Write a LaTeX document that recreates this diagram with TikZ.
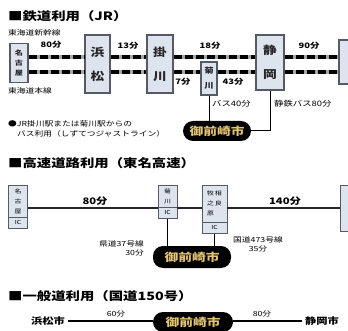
\documentclass[tikz,border=0pt]{standalone}
\usepackage{fontspec}
\setmainfont{Noto Sans CJK JP}[FakeStretch=1.25]
\usetikzlibrary{shapes.multipart}
\definecolor{boxfill}{RGB}{221,228,238}
\definecolor{boxline}{RGB}{85,90,100}
\definecolor{pillgold}{RGB}{226,194,116}
\begin{document}
\begin{tikzpicture}[x=1pt,y=-1pt,
	stationbox/.style={draw=boxline, fill=boxfill, line width=1.2pt, inner sep=0pt, align=center, text=black!85},
	icbox/.style={rectangle split, rectangle split parts=2, draw=boxline, fill=boxfill, line width=0.8pt, inner xsep=1pt, inner ysep=3pt, minimum width=19pt, align=center, anchor=north, font=\fontsize{5.5}{10}\selectfont},
	rail/.style={draw=black, line width=3.4pt, dash pattern=on 8pt off 3pt, preaction={draw=black!35, solid, line width=4.4pt}},
	road/.style={draw=black!85, line width=1.6pt},
	link/.style={draw=black, line width=1pt},
	city/.style={fill=black, text=pillgold, rounded corners=10pt, inner sep=0pt, font=\bfseries\fontsize{11}{12}\selectfont},
	heading/.style={anchor=west, inner sep=0pt, font=\bfseries\fontsize{11.5}{13}\selectfont},
	mins/.style={inner sep=0pt, font=\bfseries\fontsize{7.5}{9}\selectfont},
	note/.style={inner sep=0pt, font=\fontsize{7}{9}\selectfont}]
	\clip (0,0) rectangle (348,331);
	\fill[white] (0,0) rectangle (348,331);

	\node[heading] (jr) at (8,16) {■鉄道利用（JR）};
	\node[note, anchor=west] (shinkansen) at (8,33) {東海道新幹線};
	\node[note, anchor=west] (honsen) at (8,91) {東海道本線};

	\node[stationbox, minimum width=18pt, minimum height=39pt, font=\bfseries\fontsize{6.5}{10}\selectfont] (nagoya) at (19,63) {名\\古\\屋};
	\node[stationbox, minimum width=25pt, minimum height=58pt, font=\bfseries\fontsize{11}{24}\selectfont] (hamamatsu) at (97.5,64) {浜\\松};
	\node[stationbox, minimum width=26pt, minimum height=58pt, font=\bfseries\fontsize{11}{24}\selectfont] (kakegawa) at (160,64) {掛\\川};
	\node[stationbox, minimum width=16pt, minimum height=33pt, font=\bfseries\fontsize{7.5}{15}\selectfont] (kikugawa) at (209,78.5) {菊\\川};
	\node[stationbox, minimum width=28pt, minimum height=55pt, font=\bfseries\fontsize{11}{24}\selectfont] (shizuoka) at (270,62.5) {静\\岡};
	\node[stationbox, minimum width=26pt, minimum height=44pt] (tokyo) at (352,62) {};

	\coordinate (up) at (0,57);
	\coordinate (dn) at (0,72);
	\draw[rail] (nagoya.east |- up) -- (hamamatsu.west |- up);
	\draw[rail] (nagoya.east |- dn) -- (hamamatsu.west |- dn);
	\draw[rail] (hamamatsu.east |- up) -- (kakegawa.west |- up);
	\draw[rail] (hamamatsu.east |- dn) -- (kakegawa.west |- dn);
	\draw[rail] (kakegawa.east |- up) -- (shizuoka.west |- up);
	\draw[rail] (kakegawa.east |- dn) -- (kikugawa.west |- dn);
	\draw[rail] (kikugawa.east |- dn) -- (shizuoka.west |- dn);
	\draw[rail] (shizuoka.east |- up) -- (tokyo.west |- up);
	\draw[rail] (shizuoka.east |- dn) -- (tokyo.west |- dn);

	\node[mins] (t80) at (51,45) {80分};
	\node[mins] (t13) at (128,46) {13分};
	\node[mins] (t18) at (210,46) {18分};
	\node[mins] (t7) at (183,82) {7分};
	\node[mins] (t43) at (233,82) {43分};
	\node[mins] (t90) at (309,46) {90分};

	\node[city, minimum width=68pt, minimum height=20pt] (city1) at (217,131) {御前崎市};
	\draw[link] (kikugawa.south) -- (kikugawa.south |- city1.north);
	\draw[link] (shizuoka.south) |- (city1.east);
	\node[mins, anchor=west, font=\fontsize{7.5}{9}\selectfont] (bus40) at (212,104) {バス40分};
	\node[mins, anchor=west, font=\fontsize{7.5}{9}\selectfont] (bus80) at (274,104) {静鉄バス80分};

	\node[note, anchor=west] (note1) at (8,124) {●JR掛川駅または菊川駅からの};
	\node[note, anchor=west] (note2) at (17,134) {バス利用（しずてつジャストライン）};

	\node[heading] (tomei) at (8,163) {■高速道路利用（東名高速）};
	\node[icbox] (nagoyaic) at (18,185) {名\\古\\屋\nodepart{two}IC};
	\node[icbox] (kikugawaic) at (167.5,185) {菊\\川\nodepart{two}IC};
	\node[icbox, minimum width=25pt] (sagaraic) at (214.5,185) {\begin{tabular}{@{}c@{\hspace{1pt}}c@{}}牧&相\\之&良\\原&\end{tabular}\nodepart{two}IC};
	\node[stationbox, line width=0.8pt, minimum width=19pt, minimum height=46pt, anchor=north] (tokyoic) at (350,185) {};

	\coordinate (hw) at (0,208);
	\draw[road] (nagoyaic.east |- hw) -- (kikugawaic.west |- hw);
	\draw[road] (kikugawaic.east |- hw) -- (sagaraic.west |- hw);
	\draw[road] (sagaraic.east |- hw) -- (tokyoic.west |- hw);
	\node[mins, font=\bfseries\fontsize{9}{10}\selectfont] (h80) at (95,201) {80分};
	\node[mins, font=\bfseries\fontsize{9}{10}\selectfont] (h140) at (285,201) {140分};

	\node[city, minimum width=78pt, minimum height=22pt] (city2) at (192,257) {御前崎市};
	\draw[link] (kikugawaic.south) -- (kikugawaic.south |- city2.north);
	\draw[link] (sagaraic.south) -- (sagaraic.south |- city2.north);
	\node[note, anchor=east, align=right] (r37) at (144,248) {県道37号線\\30分};
	\node[note, align=center] (r473) at (258,244) {国道473号線\\35分};

	\node[heading] (r150) at (8,296) {■一般道利用（国道150号）};
	\node[city, minimum width=80pt, minimum height=20pt] (city3) at (193,322) {御前崎市};
	\node[inner sep=0pt, font=\bfseries\fontsize{9}{10}\selectfont] (hamamatsushi) at (48,321) {浜松市};
	\node[inner sep=0pt, font=\bfseries\fontsize{9}{10}\selectfont] (shizuokashi) at (322,321) {静岡市};
	\draw[link, line width=1.3pt] (hamamatsushi.east) ++(3,0) -- (city3.west |- hamamatsushi.east);
	\draw[link, line width=1.3pt] (city3.east |- shizuokashi.west) -- ([xshift=-3pt]shizuokashi.west);
	\node[mins, font=\fontsize{7}{8}\selectfont] (s60) at (116,314) {60分};
	\node[mins, font=\fontsize{7}{8}\selectfont] (s80) at (262,314) {80分};
\end{tikzpicture}
\end{document}
